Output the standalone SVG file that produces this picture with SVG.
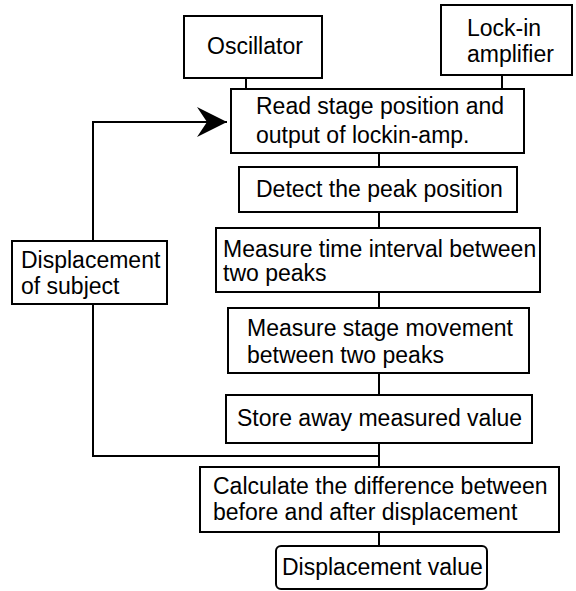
<svg xmlns="http://www.w3.org/2000/svg" width="576" height="591" viewBox="0 0 576 591">
<style>
.box{fill:#fff;stroke:#000;stroke-width:2}
.ln{fill:none;stroke:#000;stroke-width:2}
text{font-family:"Liberation Sans",Arial,sans-serif;font-size:23px;fill:#000}
</style>
<defs>
<marker id="arr" markerUnits="userSpaceOnUse" markerWidth="32" markerHeight="32" refX="30" refY="15" orient="auto">
<path d="M30,15 L0,0 L10,15 L0,30 Z" fill="#000"/>
</marker>
</defs>
<rect width="576" height="591" fill="#fff"/>
<g id="connectors">
<line class="ln" x1="246" y1="78" x2="246" y2="89"/>
<line class="ln" x1="502" y1="75" x2="502" y2="89"/>
<line class="ln" x1="379" y1="153" x2="379" y2="167"/>
<line class="ln" x1="379" y1="212" x2="379" y2="228"/>
<line class="ln" x1="379" y1="292" x2="379" y2="308"/>
<line class="ln" x1="379" y1="373" x2="379" y2="395"/>
<line class="ln" x1="379" y1="443" x2="379" y2="467"/>
<line class="ln" x1="379" y1="532" x2="379" y2="546"/>
<polyline class="ln" points="379,456 93,456 93,304"/>
<polyline class="ln" points="93,241 93,122 227,122" marker-end="url(#arr)"/>
</g>
<g id="oscillator">
<rect class="box" x="184" y="16" width="138" height="62"/>
<text x="207" y="54">Oscillator</text>
</g>
<g id="lockin">
<rect class="box" x="441" y="5" width="131" height="70"/>
<text x="467" y="36">Lock-in</text>
<text x="467" y="62">amplifier</text>
</g>
<g id="read">
<rect class="box" x="231" y="89" width="293" height="64"/>
<text x="256" y="114">Read stage position and</text>
<text x="256" y="143">output of lockin-amp.</text>
</g>
<g id="detect">
<rect class="box" x="239" y="167" width="278" height="45"/>
<text x="256" y="197">Detect the peak position</text>
</g>
<g id="measure-time">
<rect class="box" x="216" y="228" width="324" height="64"/>
<text x="223" y="257">Measure time interval between</text>
<text x="223" y="281">two peaks</text>
</g>
<g id="measure-stage">
<rect class="box" x="228" y="308" width="301" height="65"/>
<text x="247" y="336">Measure stage movement</text>
<text x="247" y="363">between two peaks</text>
</g>
<g id="store">
<rect class="box" x="226" y="395" width="306" height="48"/>
<text x="237" y="426">Store away measured value</text>
</g>
<g id="displacement-subject">
<rect class="box" x="12" y="241" width="155" height="63"/>
<text x="21" y="268">Displacement</text>
<text x="21" y="294">of subject</text>
</g>
<g id="calculate">
<rect class="box" x="200" y="467" width="359" height="65"/>
<text x="213" y="494">Calculate the difference between</text>
<text x="213" y="520">before and after displacement</text>
</g>
<g id="displacement-value">
<rect class="box" x="276" y="546" width="211" height="43" rx="5"/>
<text x="282" y="575">Displacement value</text>
</g>
</svg>
